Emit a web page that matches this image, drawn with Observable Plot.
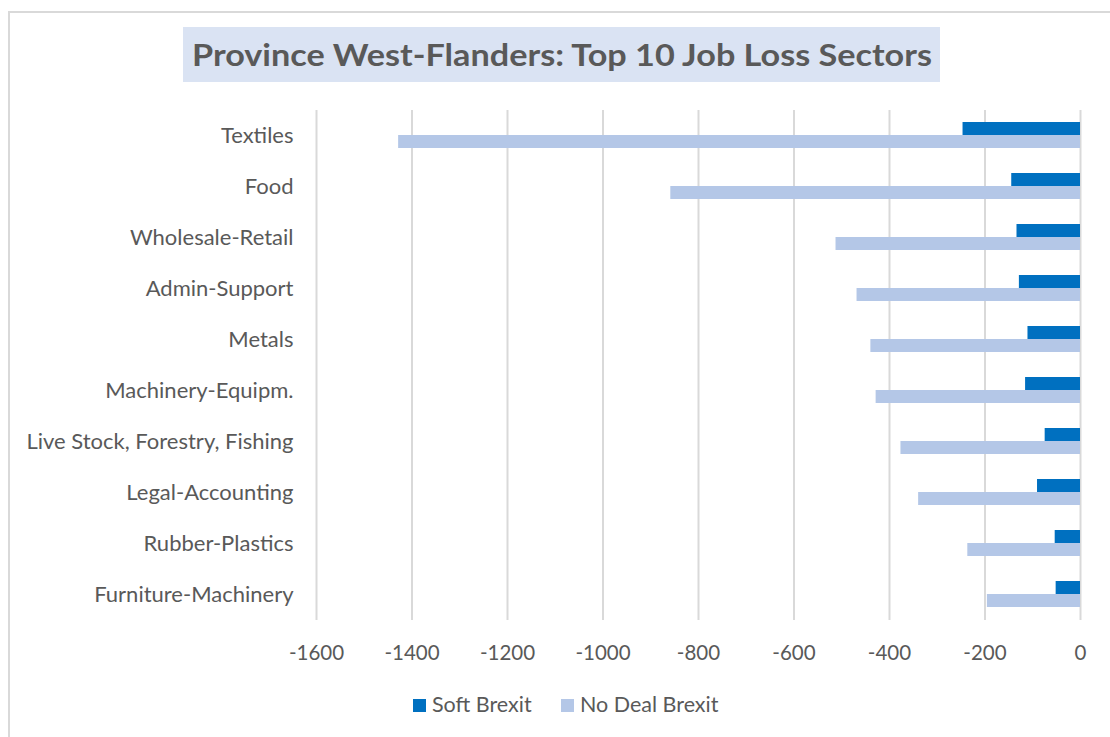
<!DOCTYPE html>
<html>
<head>
<meta charset="utf-8">
<script src="https://cdn.jsdelivr.net/npm/d3@7"></script>
<script src="https://cdn.jsdelivr.net/npm/@observablehq/plot@0.6"></script>
<style>
  html, body { margin: 0; padding: 0; background: #fff; width: 1110px; height: 737px; overflow: hidden; }
  #wrap { position: relative; width: 1110px; height: 737px; font-family: Lato, "Open Sans", sans-serif; }
  #border { position: absolute; left: 8px; top: 11px; width: 1300px; height: 900px; border: 2px solid #d9d9d9; box-sizing: border-box; }
  #chart { position: absolute; left: 0; top: 0; }
  #title { position: absolute; left: 0; top: 0; }
  .leg { position: absolute; top: 691px; font-size: 21.5px; color: #595959; line-height: 26px; white-space: nowrap; }
  .sw { position: absolute; top: 699px; width: 13px; height: 13px; }
</style>
</head>
<body>
<div id="wrap">
  <div id="border"></div>
  <div id="chart"></div>
  <svg id="title" width="1110" height="100"></svg>
  <div class="sw" id="sw1" style="left:413px;"></div>
  <div class="leg" id="lg1" style="left:432px;"></div>
  <div class="sw" id="sw2" style="left:561px;"></div>
  <div class="leg" id="lg2" style="left:580px;"></div>
</div>
<script>
const titleText = "Province West-Flanders: Top 10 Job Loss Sectors";
const sectors = ["Textiles", "Food", "Wholesale-Retail", "Admin-Support", "Metals",
  "Machinery-Equipm.", "Live Stock, Forestry, Fishing", "Legal-Accounting",
  "Rubber-Plastics", "Furniture-Machinery"];
const seriesNames = ["Soft Brexit", "No Deal Brexit"];
const softBrexit = [-246, -144, -133, -128, -110, -115, -74, -90, -53, -51];
const noDealBrexit = [-1428, -858, -512, -468, -439, -428, -376, -339, -236, -195];
const xTicks = [-1600, -1400, -1200, -1000, -800, -600, -400, -200, 0];
const colors = ["#0070c0", "#b4c7e7"];

const soft = sectors.map((s, i) => ({sector: s, value: softBrexit[i]}));
const nodeal = sectors.map((s, i) => ({sector: s, value: noDealBrexit[i]}));

const plot = Plot.plot({
  width: 1110,
  height: 737,
  marginTop: 110,
  marginBottom: 117,
  marginLeft: 316,
  marginRight: 30,
  style: {fontFamily: "Lato, 'Open Sans', sans-serif", fontSize: "20px", color: "#595959", background: "transparent"},
  x: {domain: [-1600, 0], ticks: xTicks, tickSize: 0, tickPadding: 25, label: null, tickFormat: d => String(d)},
  y: {domain: sectors, paddingInner: 0.49, paddingOuter: 0.245, tickSize: 0, tickPadding: 23, label: null},
  marks: [
    Plot.gridX(xTicks, {stroke: "#d9d9d9", strokeOpacity: 1, strokeWidth: 2}),
    Plot.barX(soft, {y: "sector", x: "value", fill: colors[0], insetBottom: 13}),
    Plot.barX(nodeal, {y: "sector", x: "value", fill: colors[1], insetTop: 13}),
    Plot.axisX({ticks: xTicks, tickSize: 0, tickPadding: 25, fill: "#595959", fontSize: 20.5, tickFormat: d => String(d), label: null}),
    Plot.axisY({tickSize: 0, tickPadding: 23, fill: "#595959", fontSize: 22, label: null})
  ]
});
document.getElementById("chart").appendChild(plot);

// Title
const t = d3.select("#title");
t.append("rect").attr("x", 183).attr("y", 27).attr("width", 757).attr("height", 55).attr("fill", "#dae3f3");
t.append("text").attr("x", 192).attr("y", 66)
  .attr("textLength", 740).attr("lengthAdjust", "spacingAndGlyphs")
  .attr("font-family", "Lato, 'Open Sans', sans-serif").attr("font-weight", "bold")
  .attr("font-size", 31).attr("fill", "#595959").text(titleText);

// Legend
document.getElementById("sw1").style.background = colors[0];
document.getElementById("sw2").style.background = colors[1];
document.getElementById("lg1").textContent = seriesNames[0];
document.getElementById("lg2").textContent = seriesNames[1];
</script>
</body>
</html>
